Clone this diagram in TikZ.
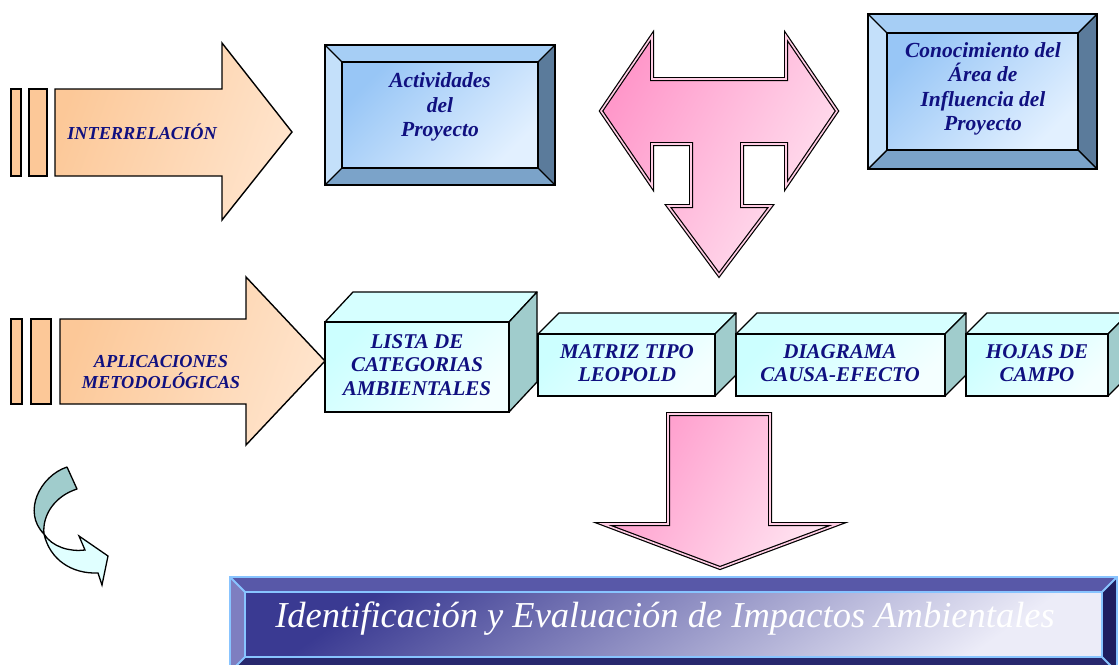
\documentclass[tikz,border=0pt]{standalone}
\usepackage{fontspec}
\setmainfont{Liberation Serif}
\definecolor{navyT}{RGB}{16,16,128}
\definecolor{orA}{RGB}{252,200,152}
\definecolor{orB}{RGB}{255,228,204}
\definecolor{blTop}{RGB}{166,206,245}
\definecolor{blLeft}{RGB}{196,224,250}
\definecolor{blRight}{RGB}{91,123,155}
\definecolor{blBot}{RGB}{123,163,201}
\definecolor{blInA}{RGB}{152,198,246}
\definecolor{blInB}{RGB}{226,240,255}
\definecolor{pkA}{RGB}{255,152,202}
\definecolor{pkB}{RGB}{255,228,241}
\definecolor{pkLine}{RGB}{255,205,228}
\definecolor{cyFrontA}{RGB}{204,255,255}
\definecolor{cyFrontB}{RGB}{244,255,255}
\definecolor{cyTop}{RGB}{214,255,255}
\definecolor{cySide}{RGB}{160,204,204}
\definecolor{cyLight}{RGB}{224,255,255}
\definecolor{bnTop}{RGB}{88,88,168}
\definecolor{bnLeft}{RGB}{126,126,192}
\definecolor{bnRight}{RGB}{30,30,96}
\definecolor{bnBot}{RGB}{40,40,110}
\definecolor{bnInA}{RGB}{58,58,146}
\definecolor{bnInB}{RGB}{236,236,248}
\definecolor{bnLine}{RGB}{136,196,255}
\tikzset{
  orarrow/.style={draw=black, line width=1.4pt, line join=miter, top color=orA, bottom color=orB, shading angle=70},
  orbar/.style={draw=black, line width=1.4pt, fill=orA},
  pkarrow/.style={draw=black, line width=1.2pt, double=pkLine, double distance=1.6pt, line join=miter, top color=pkA, bottom color=pkB, shading angle=60},
  bluein/.style={top color=blInA, bottom color=blInB, shading angle=45},
  bnin/.style={top color=bnInA, bottom color=bnInB, shading angle=35},
  cubtop/.style={draw=black, line width=1.3pt, fill=cyTop, line join=round},
  cubside/.style={draw=black, line width=1.3pt, fill=cySide, line join=round},
  cubfront/.style={draw=black, line width=1.3pt, top color=cyFrontA, bottom color=cyFrontB, shading angle=45},
  lbl/.style={text=navyT, font=\bfseries\itshape\fontsize{18.3}{21}\selectfont, align=center, inner sep=0pt},
  blbl/.style={lbl, font=\bfseries\itshape\fontsize{21.5}{24.3}\selectfont},
  cublbl/.style={lbl, font=\bfseries\itshape\fontsize{21}{23.5}\selectfont}
}
\newcommand\bevbox[9]{%
  \fill[#6] (#1,#2) -- (#3,#2) -- ({#3-#5},{#2+#5}) -- ({#1+#5},{#2+#5}) -- cycle;
  \fill[#7] (#1,#2) -- ({#1+#5},{#2+#5}) -- ({#1+#5},{#4-#5}) -- (#1,#4) -- cycle;
  \fill[#8] (#3,#2) -- (#3,#4) -- ({#3-#5},{#4-#5}) -- ({#3-#5},{#2+#5}) -- cycle;
  \fill[#9] (#1,#4) -- (#3,#4) -- ({#3-#5},{#4-#5}) -- ({#1+#5},{#4-#5}) -- cycle;
}
\newcommand\bevlines[6]{%
  \draw[#6] (#1,#2) rectangle (#3,#4);
  \draw[#6] ({#1+#5},{#2+#5}) rectangle ({#3-#5},{#4-#5});
  \draw[#6] (#1,#2) -- ({#1+#5},{#2+#5}) (#3,#2) -- ({#3-#5},{#2+#5})
            (#1,#4) -- ({#1+#5},{#4-#5}) (#3,#4) -- ({#3-#5},{#4-#5});
}
\newcommand\cuboid[6]{%
  \filldraw[cubtop] (#1,#2) -- ({#1+#5},{#2-#6}) -- ({#3+#5},{#2-#6}) -- (#3,#2) -- cycle;
  \filldraw[cubside] (#3,#2) -- ({#3+#5},{#2-#6}) -- ({#3+#5},{#4-#6}) -- (#3,#4) -- cycle;
  \shade[cubfront] (#1,#2) rectangle (#3,#4);
  \draw[black, line width=1.3pt] (#1,#2) rectangle (#3,#4);
}
\begin{document}
\begin{tikzpicture}[x=1pt,y=-1pt]
\useasboundingbox (0,0) rectangle (1119,664);

% ---- row 1: INTERRELACION arrow
\draw[orbar] (11,89) rectangle (21,176);
\draw[orbar] (29,89) rectangle (47,176);
\draw[orarrow] (55,89) -- (222,89) -- (222,43) -- (292,132) -- (222,220) -- (222,176) -- (55,176) -- cycle;
\node[lbl] (inter) at (142,132) {INTERRELACIÓN};

% ---- Actividades box
\bevbox{325}{45}{555}{185}{17}{blTop}{blLeft}{blRight}{blBot}
\shade[bluein] (342,62) rectangle (538,168);
\bevlines{325}{45}{555}{185}{17}{black, line width=1.4pt}
\node[blbl] (activ) at (440,107) {Actividades\\del\\Proyecto};

% ---- T arrow
\draw[pkarrow] (601,111) -- (652,36) -- (652,79) -- (786,79) -- (786,36) -- (837,111) -- (786,186) -- (786,144) -- (742,144) -- (742,206) -- (771,206) -- (719,275) -- (668,206) -- (691,206) -- (691,144) -- (652,144) -- (652,186) -- cycle;

% ---- Conocimiento box
\bevbox{868}{14}{1097}{169}{19}{blTop}{blLeft}{blRight}{blBot}
\shade[bluein] (887,33) rectangle (1078,150);
\bevlines{868}{14}{1097}{169}{19}{black, line width=1.4pt}
\node[blbl] (conoc) at (983,89) {Conocimiento del\\Área de\\Influencia del\\Proyecto};

% ---- row 2: APLICACIONES arrow
\draw[orbar] (11,319) rectangle (22,404);
\draw[orbar] (31,319) rectangle (51,404);
\draw[orarrow] (60,319) -- (246,319) -- (246,277) -- (325,361) -- (246,445) -- (246,404) -- (60,404) -- cycle;
\node[lbl] (aplic) at (161,372) {APLICACIONES\\METODOLÓGICAS};

% ---- cuboids
\cuboid{325}{322}{509}{412}{28}{30}
\node[cublbl] (lista) at (417,365) {LISTA DE\\CATEGORIAS\\AMBIENTALES};
\cuboid{538}{334}{715}{396}{21}{21}
\node[cublbl] (matriz) at (627,363) {MATRIZ TIPO\\LEOPOLD};
\cuboid{736}{334}{945}{396}{21}{21}
\node[cublbl] (diag) at (840,363) {DIAGRAMA\\CAUSA-EFECTO};
\cuboid{966}{334}{1108}{396}{21}{21}
\node[cublbl] (hojas) at (1037,363) {HOJAS DE\\CAMPO};

% ---- down arrow
\draw[pkarrow] (668,414) -- (770,414) -- (770,524) -- (838,524) -- (720,568) -- (603,524) -- (668,524) -- cycle;

% ---- curved arrow
\filldraw[draw=black, line width=1.3pt, fill=cySide, line join=round]
  (67,467) .. controls (40,476) and (22,512) .. (44,534)
  .. controls (42,515) and (55,496) .. (77,489) -- cycle;
\filldraw[draw=black, line width=1.3pt, fill=cyLight, line join=miter]
  (44,534) .. controls (50,560) and (72,574) .. (98,573)
  -- (102,585) -- (108,556) -- (79,536) -- (85,550)
  .. controls (70,552) and (52,547) .. (44,534) -- cycle;

% ---- banner
\bevbox{230}{577}{1117}{672}{15}{bnTop}{bnLeft}{bnRight}{bnBot}
\shade[bnin] (245,592) rectangle (1102,657);
\bevlines{230}{577}{1117}{672}{15}{bnLine, line width=2pt}
\node[text=white, font=\itshape\fontsize{36.5}{40}\selectfont, inner sep=0pt] (ident) at (665,619) {Identificación y Evaluación de Impactos Ambientales};
\end{tikzpicture}
\end{document}
